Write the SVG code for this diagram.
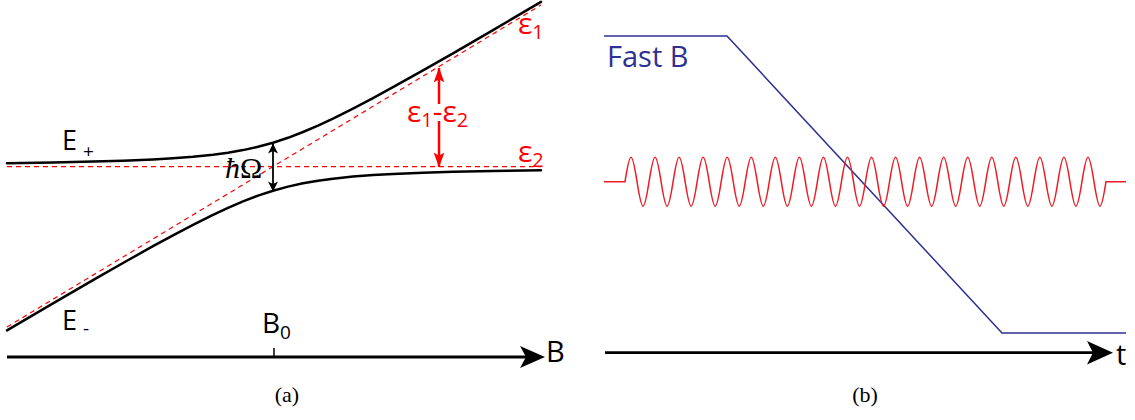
<svg xmlns="http://www.w3.org/2000/svg" width="1135" height="420" viewBox="0 0 1135 420">
<style>
.lbl{font-family:"Open Sans","DejaVu Sans",sans-serif;}
.blk{fill:#000;}
.red{fill:#ff0000;}
.blue{fill:#2e3192;}
.cap{font-family:"Liberation Serif","DejaVu Serif",serif;font-size:22px;fill:#000;}
.curve{fill:none;stroke:#000;stroke-width:2.5;stroke-linejoin:round;stroke-linecap:round;}
.dash{fill:none;stroke:#ff0000;stroke-width:1.2;stroke-dasharray:5 4;}
.axis{fill:none;stroke:#000;stroke-width:2.8;}
</style>
<defs>
<marker id="hB" viewBox="0 0 10 10" refX="9.5" refY="5" markerWidth="11" markerHeight="10" markerUnits="userSpaceOnUse" orient="auto-start-reverse">
<path d="M0,0 L10,5 L0,10 L2.5,5 Z" fill="#000"/>
</marker>
<marker id="hR" viewBox="0 0 14 10" refX="13.5" refY="5" markerWidth="15" markerHeight="11" markerUnits="userSpaceOnUse" orient="auto">
<path d="M0,0 L14,5 L0,10 L3,5 Z" fill="#ff0000"/>
</marker>
</defs>

<g id="panel-a">
<g id="asymptotes">
<line class="dash" x1="7" y1="166.7" x2="541" y2="166.7"/>
<line class="dash" x1="7" y1="327" x2="541" y2="5"/>
</g>
<g id="E-plus">
<polyline class="curve" points="7,163.2 53,162.5 93,161.6 123,160.7 153,159.5 173,158.3 193,156.8 213,154.7 228,152.7 243,150.1 258,146.8 273,142.7 288,137.8 303,132.0 318,125.6 333,118.6 353,108.6 373,98.1 393,87.2 423,70.4 453,53.3 493,30.1 541,1.9"/>
<text class="lbl blk" x="62" y="150" font-size="27">E</text>
<text class="lbl blk" x="83" y="158" font-size="19">+</text>
</g>
<g id="E-minus">
<polyline class="curve" points="7,330.4 53,303.4 93,280.1 123,263.0 153,246.2 173,235.3 193,224.8 213,214.8 228,207.8 243,201.4 258,195.6 273,190.7 288,186.6 303,183.3 318,180.7 333,178.7 353,176.6 373,175.1 393,174.0 423,172.7 453,171.8 493,170.9 541,170.2"/>
<text class="lbl blk" x="62" y="330" font-size="27">E</text>
<text class="lbl blk" x="83" y="335" font-size="19">-</text>
</g>
<g id="eps1-label">
<text class="lbl red" x="518" y="34" font-size="30">ε<tspan font-size="20" dy="5">1</tspan></text>
</g>
<g id="eps2-label">
<text class="lbl red" x="518" y="162" font-size="30">ε<tspan font-size="20" dy="5">2</tspan></text>
</g>
<g id="gap-label">
<text x="225" y="178" font-family="Liberation Serif, DejaVu Serif, serif" font-size="30" fill="#000"><tspan font-style="italic">ħ</tspan>Ω</text>
</g>
<g id="diff-label">
<text class="lbl red" x="407" y="122" font-size="30">ε<tspan font-size="20" dy="5">1</tspan><tspan dy="-5">-ε</tspan><tspan font-size="20" dy="5">2</tspan></text>
</g>
<g id="B-axis">
<line class="axis" x1="7" y1="357" x2="526" y2="357"/>
<path d="M545,357 L520,346 L526,357 L520,368 Z" fill="#000"/>
<line x1="274" y1="348" x2="274" y2="357" stroke="#000" stroke-width="1.5"/>
<text class="lbl blk" x="546" y="362" font-size="29">B</text>
<text class="lbl blk" x="262" y="333" font-size="28">B<tspan font-size="19" dy="6">0</tspan></text>
</g>
<text class="cap" x="287" y="402" text-anchor="middle">(a)</text>
</g>

<g id="connectors">
<line x1="273" y1="144" x2="273" y2="191" stroke="#000" stroke-width="1.8" marker-start="url(#hB)" marker-end="url(#hB)"/>
<line x1="439" y1="104" x2="439" y2="68" stroke="#ff0000" stroke-width="2.5" marker-end="url(#hR)"/>
<line x1="439" y1="121" x2="439" y2="167" stroke="#ff0000" stroke-width="2.5" marker-end="url(#hR)"/>
</g>

<g id="panel-b">
<g id="fastB">
<polyline points="604,36 727,36 1002,333 1126,333" fill="none" stroke="#2e3192" stroke-width="1.5"/>
<text class="lbl blue" x="607" y="67" font-size="29">Fast B</text>
</g>
<g id="rf">
<path fill="none" stroke="#ed1c24" stroke-width="1.5" d="M604,181.7 H625
c2.004,-12.83 4.099,-24.5 6.0125,-24.5 c1.9135,0 4.0085,11.67 6.0125,24.5 c2.004,12.83 4.099,24.5 6.0125,24.5 c1.9135,0 4.0085,-11.67 6.0125,-24.5
c2.004,-12.83 4.099,-24.5 6.0125,-24.5 c1.9135,0 4.0085,11.67 6.0125,24.5 c2.004,12.83 4.099,24.5 6.0125,24.5 c1.9135,0 4.0085,-11.67 6.0125,-24.5
c2.004,-12.83 4.099,-24.5 6.0125,-24.5 c1.9135,0 4.0085,11.67 6.0125,24.5 c2.004,12.83 4.099,24.5 6.0125,24.5 c1.9135,0 4.0085,-11.67 6.0125,-24.5
c2.004,-12.83 4.099,-24.5 6.0125,-24.5 c1.9135,0 4.0085,11.67 6.0125,24.5 c2.004,12.83 4.099,24.5 6.0125,24.5 c1.9135,0 4.0085,-11.67 6.0125,-24.5
c2.004,-12.83 4.099,-24.5 6.0125,-24.5 c1.9135,0 4.0085,11.67 6.0125,24.5 c2.004,12.83 4.099,24.5 6.0125,24.5 c1.9135,0 4.0085,-11.67 6.0125,-24.5
c2.004,-12.83 4.099,-24.5 6.0125,-24.5 c1.9135,0 4.0085,11.67 6.0125,24.5 c2.004,12.83 4.099,24.5 6.0125,24.5 c1.9135,0 4.0085,-11.67 6.0125,-24.5
c2.004,-12.83 4.099,-24.5 6.0125,-24.5 c1.9135,0 4.0085,11.67 6.0125,24.5 c2.004,12.83 4.099,24.5 6.0125,24.5 c1.9135,0 4.0085,-11.67 6.0125,-24.5
c2.004,-12.83 4.099,-24.5 6.0125,-24.5 c1.9135,0 4.0085,11.67 6.0125,24.5 c2.004,12.83 4.099,24.5 6.0125,24.5 c1.9135,0 4.0085,-11.67 6.0125,-24.5
c2.004,-12.83 4.099,-24.5 6.0125,-24.5 c1.9135,0 4.0085,11.67 6.0125,24.5 c2.004,12.83 4.099,24.5 6.0125,24.5 c1.9135,0 4.0085,-11.67 6.0125,-24.5
c2.004,-12.83 4.099,-24.5 6.0125,-24.5 c1.9135,0 4.0085,11.67 6.0125,24.5 c2.004,12.83 4.099,24.5 6.0125,24.5 c1.9135,0 4.0085,-11.67 6.0125,-24.5
c2.004,-12.83 4.099,-24.5 6.0125,-24.5 c1.9135,0 4.0085,11.67 6.0125,24.5 c2.004,12.83 4.099,24.5 6.0125,24.5 c1.9135,0 4.0085,-11.67 6.0125,-24.5
c2.004,-12.83 4.099,-24.5 6.0125,-24.5 c1.9135,0 4.0085,11.67 6.0125,24.5 c2.004,12.83 4.099,24.5 6.0125,24.5 c1.9135,0 4.0085,-11.67 6.0125,-24.5
c2.004,-12.83 4.099,-24.5 6.0125,-24.5 c1.9135,0 4.0085,11.67 6.0125,24.5 c2.004,12.83 4.099,24.5 6.0125,24.5 c1.9135,0 4.0085,-11.67 6.0125,-24.5
c2.004,-12.83 4.099,-24.5 6.0125,-24.5 c1.9135,0 4.0085,11.67 6.0125,24.5 c2.004,12.83 4.099,24.5 6.0125,24.5 c1.9135,0 4.0085,-11.67 6.0125,-24.5
c2.004,-12.83 4.099,-24.5 6.0125,-24.5 c1.9135,0 4.0085,11.67 6.0125,24.5 c2.004,12.83 4.099,24.5 6.0125,24.5 c1.9135,0 4.0085,-11.67 6.0125,-24.5
c2.004,-12.83 4.099,-24.5 6.0125,-24.5 c1.9135,0 4.0085,11.67 6.0125,24.5 c2.004,12.83 4.099,24.5 6.0125,24.5 c1.9135,0 4.0085,-11.67 6.0125,-24.5
c2.004,-12.83 4.099,-24.5 6.0125,-24.5 c1.9135,0 4.0085,11.67 6.0125,24.5 c2.004,12.83 4.099,24.5 6.0125,24.5 c1.9135,0 4.0085,-11.67 6.0125,-24.5
c2.004,-12.83 4.099,-24.5 6.0125,-24.5 c1.9135,0 4.0085,11.67 6.0125,24.5 c2.004,12.83 4.099,24.5 6.0125,24.5 c1.9135,0 4.0085,-11.67 6.0125,-24.5
c2.004,-12.83 4.099,-24.5 6.0125,-24.5 c1.9135,0 4.0085,11.67 6.0125,24.5 c2.004,12.83 4.099,24.5 6.0125,24.5 c1.9135,0 4.0085,-11.67 6.0125,-24.5
c2.004,-12.83 4.099,-24.5 6.0125,-24.5 c1.9135,0 4.0085,11.67 6.0125,24.5 c2.004,12.83 4.099,24.5 6.0125,24.5 c1.9135,0 4.0085,-11.67 6.0125,-24.5
H1126"/>
</g>
<g id="t-axis">
<line class="axis" x1="605" y1="352.7" x2="1093" y2="352.7"/>
<path d="M1113,352.7 L1087,341 L1093,352.7 L1087,364.5 Z" fill="#000"/>
<text class="lbl blk" x="1116" y="365" font-size="29">t</text>
</g>
<text class="cap" x="865" y="402" text-anchor="middle">(b)</text>
</g>
</svg>
